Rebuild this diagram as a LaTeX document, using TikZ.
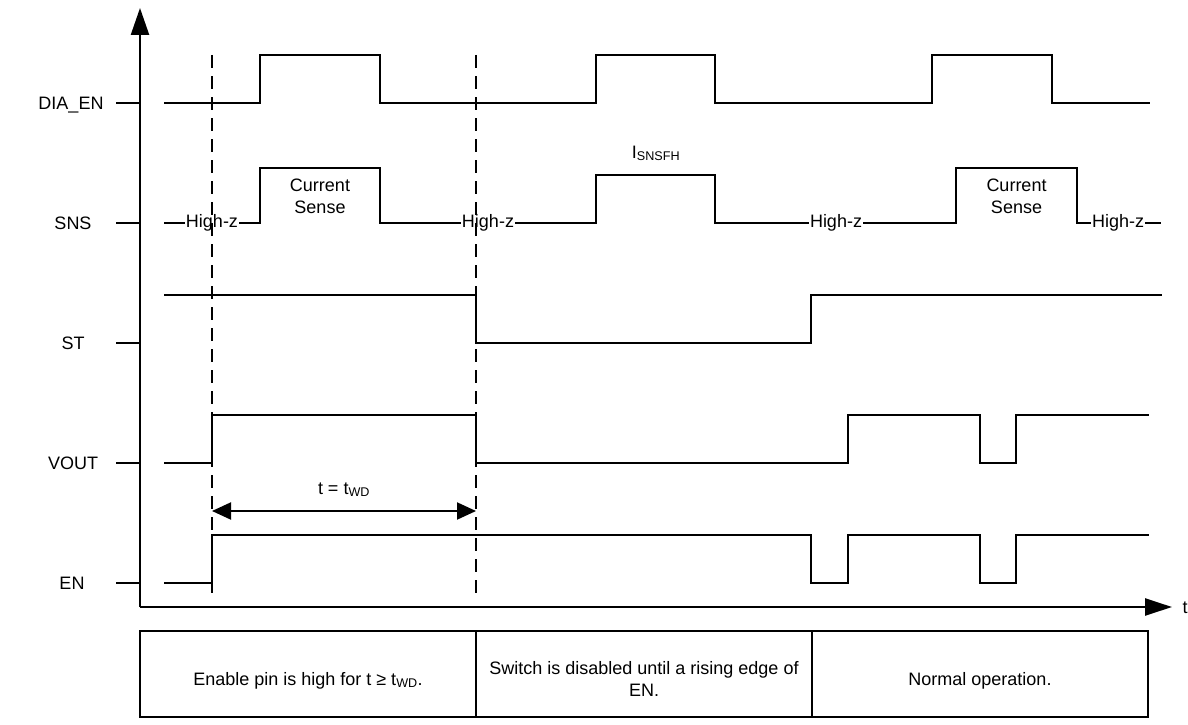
\documentclass[tikz,border=0pt]{standalone}
\usepackage{fontspec}
\setmainfont{Liberation Sans}
\usetikzlibrary{arrows.meta}
\newcommand{\mysubtxt}[1]{\textsubscript{#1}}
\begin{document}
\begin{tikzpicture}[x=1pt,y=-1pt,
  sig/.style={line width=2pt, line join=miter},
  axisline/.style={line width=2.4pt},
  lbl/.style={font=\fontsize{18}{22}\selectfont, inner sep=0pt},
  hz/.style={lbl, fill=white, inner sep=1pt},
  guide/.style={line width=1.5pt, dash pattern=on 13pt off 8pt},
  cellbox/.style={draw, line width=2pt},
  bigtip/.style={-{Triangle[length=27pt,width=18pt]}},
  dimarrow/.style={{Triangle[length=19pt,width=17pt]}-{Triangle[length=19pt,width=17pt]}, line width=2pt}
]
\useasboundingbox (0,0) rectangle (1188,725);

% axes
\coordinate (O) at (140,607);
\coordinate (ytip) at (140,8);
\coordinate (xtip) at (1172,607);
\draw[axisline, bigtip] (O) -- (ytip);
\draw[axisline, -{Triangle[length=27pt,width=17pt]}] (O) -- (xtip);
\node[lbl, anchor=base] (tlabel) at (1185,613) {t};

% signal names and ticks
\foreach \yy in {103, 223, 343, 463, 583}{
  \draw[sig] (116,\yy) -- (140,\yy);
}
\node[lbl, anchor=base] (ldia) at (71,109.5) {DIA\_EN};
\node[lbl, anchor=base] (lsns) at (73,229.5) {SNS};
\node[lbl, anchor=base] (lst) at (73,349.5) {ST};
\node[lbl, anchor=base] (lvout) at (73,469.5) {VOUT};
\node[lbl, anchor=base] (len) at (72,589.5) {EN};

% DIA_EN
\draw[sig] (164,103) -- (260,103) -- (260,55) -- (380,55) -- (380,103) -- (596,103) -- (596,55) -- (715,55) -- (715,103) -- (932,103) -- (932,55) -- (1052,55) -- (1052,103) -- (1150,103);

% SNS
\draw[sig] (164,223) -- (260,223) -- (260,168) -- (380,168) -- (380,223) -- (596,223) -- (596,175) -- (715,175) -- (715,223) -- (956,223) -- (956,168) -- (1077,168) -- (1077,223) -- (1161,223);
\node[hz] (hz1) at (212,223) {High-z};
\node[hz] (hz2) at (488,223) {High-z};
\node[hz] (hz3) at (836,223) {High-z};
\node[hz] (hz4) at (1118,223) {High-z};
\node[lbl, align=center] (cs1) at (320,196) {Current\\Sense};
\node[lbl, align=center] (cs2) at (1016.5,196) {Current\\Sense};
\node[lbl, anchor=base] (isns) at (656,158) {I\mysubtxt{SNSFH}};

% ST
\draw[sig] (164,295) -- (476,295) -- (476,343) -- (811,343) -- (811,295) -- (1162,295);

% VOUT
\draw[sig] (164,463) -- (212,463) -- (212,415) -- (476,415) -- (476,463) -- (848,463) -- (848,415) -- (980,415) -- (980,463) -- (1016,463) -- (1016,415) -- (1149,415);

% EN
\draw[sig] (164,583) -- (212,583) -- (212,535) -- (811,535) -- (811,583) -- (848,583) -- (848,535) -- (980,535) -- (980,583) -- (1016,583) -- (1016,535) -- (1149,535);

% dashed guides
\coordinate (g1top) at (212,55);
\coordinate (g1bot) at (212,597);
\coordinate (g2top) at (476,55);
\coordinate (g2bot) at (476,597);
\draw[guide] (g1top) -- (g1bot);
\draw[guide] (g2top) -- (g2bot);

% t = tWD
\coordinate (wdA) at (212,511);
\coordinate (wdB) at (476,511);
\draw[dimarrow] (wdA) -- (wdB);
\node[lbl, anchor=base] (twd) at (344,494) {t = t\mysubtxt{WD}};

% bottom table
\draw[cellbox] (140,631) rectangle (476,717);
\draw[cellbox] (476,631) rectangle (812,717);
\draw[cellbox] (812,631) rectangle (1148,717);
\node[lbl, anchor=base] (c1) at (308,685) {Enable pin is high for t ≥ t\mysubtxt{WD}.};
\node[lbl, align=center] (c2) at (644,679) {Switch is disabled until a rising edge of\\EN.};
\node[lbl, anchor=base] (c3) at (980,685) {Normal operation.};
\end{tikzpicture}
\end{document}
